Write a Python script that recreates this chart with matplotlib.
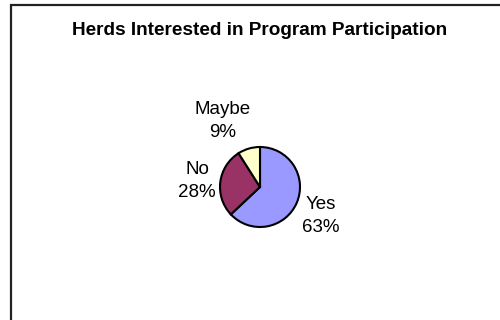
import matplotlib.pyplot as plt
from matplotlib.patches import Rectangle

plt.rcParams['font.family'] = ['Liberation Sans', 'DejaVu Sans']

labels = ['Yes', 'No', 'Maybe']
values = [63, 28, 9]
colors = ['#9999FF', '#993366', '#FFFFCC']
# label baseline spots in pie-radius units
label_pos = [(1.525, -1.125), (-1.575, -0.25), (-0.925, 1.25)]

fig = plt.figure(figsize=(5, 3.2), dpi=100)

# chart frame (runs off the right and bottom edges)
fig.patches.append(Rectangle((11 / 500, -0.1), 1.0, 1 - 5 / 320 + 0.1,
                             transform=fig.transFigure, fill=False,
                             edgecolor='#222222', linewidth=1.6))

fig.text(260 / 500, 1 - 35 / 320, 'Herds Interested in Program Participation',
         ha='center', va='baseline', fontsize=13.7, fontweight='bold')

# axes 200x200 px centred on the pie, radius 40 px
cx, cy = 260, 187
ax = fig.add_axes([(cx - 100) / 500, 1 - (cy + 100) / 320, 200 / 500, 200 / 320])
ax.pie(values, colors=colors, startangle=90, counterclock=False,
       wedgeprops=dict(edgecolor='black', linewidth=1.5))
ax.set_xlim(-2.5, 2.5)
ax.set_ylim(-2.5, 2.5)
ax.axis('off')

for name, v, (x, y) in zip(labels, values, label_pos):
    ax.text(x, y, '%s\n%d%%' % (name, v), ha='center', va='baseline',
            fontsize=13.5, linespacing=1.45)

fig.savefig('out.png', dpi=100)
